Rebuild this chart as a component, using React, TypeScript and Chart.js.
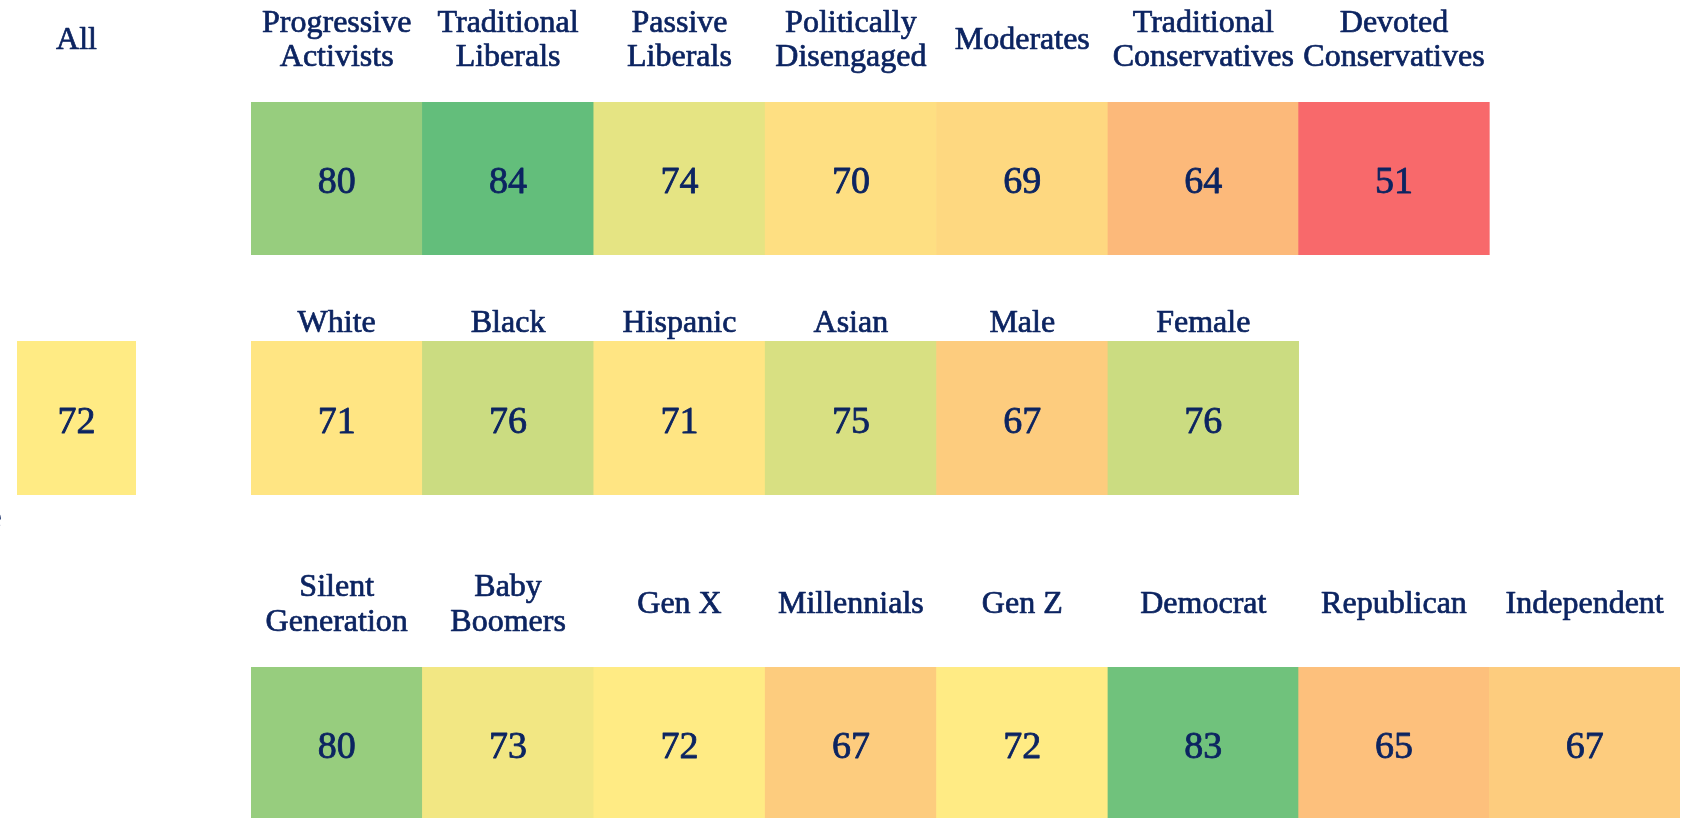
import React, { useEffect, useRef } from "react";
import { Chart, registerables } from "chart.js";

Chart.register(...registerables);

// ---------- data ----------
const ALL_LABEL = ["All"];
const ALL_VALUE = [72];

const ROW1_LABELS = [
  ["Progressive", "Activists"],
  ["Traditional", "Liberals"],
  ["Passive", "Liberals"],
  ["Politically", "Disengaged"],
  ["Moderates"],
  ["Traditional", "Conservatives"],
  ["Devoted", "Conservatives"],
];
const ROW1_VALUES = [80, 84, 74, 70, 69, 64, 51];

const ROW2_LABELS = [["White"], ["Black"], ["Hispanic"], ["Asian"], ["Male"], ["Female"]];
const ROW2_VALUES = [71, 76, 71, 75, 67, 76];

const ROW3_LABELS = [
  ["Silent", "Generation"],
  ["Baby", "Boomers"],
  ["Gen X"],
  ["Millennials"],
  ["Gen Z"],
  ["Democrat"],
  ["Republican"],
  ["Independent"],
];
const ROW3_VALUES = [80, 73, 72, 67, 72, 83, 65, 67];

// ---------- layout / style ----------
const COLUMN_WIDTHS = [1, 1, 1, 1, 1, 1.1125, 1.1125, 1.1125];
const COLUMN_EDGES = COLUMN_WIDTHS.reduce<number[]>((acc, w) => [...acc, acc[acc.length - 1] + w], [0]);
const TOTAL_WIDTH = COLUMN_EDGES[COLUMN_EDGES.length - 1];

const TEXT_COLOR = "#0c2461";
const FONT = "'Liberation Serif', 'Times New Roman', serif";
const LINE_HEIGHT = 34.6;

// Excel-style 3-colour scale (min red, median yellow, max green)
const ALL_VALUES = [...ALL_VALUE, ...ROW1_VALUES, ...ROW2_VALUES, ...ROW3_VALUES];
const sorted = [...ALL_VALUES].sort((a, b) => a - b);
const V_MIN = sorted[0];
const V_MAX = sorted[sorted.length - 1];
const V_MID =
  sorted.length % 2
    ? sorted[(sorted.length - 1) / 2]
    : (sorted[sorted.length / 2 - 1] + sorted[sorted.length / 2]) / 2;
const RED = [248, 105, 107];
const YELLOW = [255, 235, 132];
const GREEN = [99, 190, 123];

function colorFor(v: number): string {
  let a: number[], b: number[], t: number;
  if (v <= V_MID) {
    a = RED; b = YELLOW; t = (v - V_MIN) / (V_MID - V_MIN || 1);
  } else {
    a = YELLOW; b = GREEN; t = (v - V_MID) / (V_MAX - V_MID || 1);
  }
  const c = a.map((x, i) => Math.round(x + (b[i] - x) * t));
  return `rgb(${c[0]},${c[1]},${c[2]})`;
}

function drawText(ctx: CanvasRenderingContext2D, t: string, x: number, y: number) {
  ctx.fillText(t, x, y);
  ctx.strokeText(t, x, y);
}

function makeTextPlugin(labels: string[][], values: number[], centers: number[], headerGap: number, extra?: (ctx: CanvasRenderingContext2D) => void) {
  return {
    id: "cellText",
    afterDatasetsDraw(chart: any) {
      const { ctx, chartArea } = chart;
      const xs = chart.scales.x;
      const meta = chart.getDatasetMeta(0);
      ctx.save();
      ctx.fillStyle = TEXT_COLOR;
      ctx.strokeStyle = TEXT_COLOR;
      ctx.lineWidth = 0.8;
      ctx.lineJoin = "round";
      ctx.textAlign = "center";
      ctx.font = `38px ${FONT}`;
      ctx.textBaseline = "middle";
      meta.data.forEach((bar: any, i: number) => {
        const p = bar.getProps(["x", "y", "base"], true);
        drawText(ctx, String(values[i]), (p.x + p.base) / 2, p.y + 5);
      });
      ctx.font = `32px ${FONT}`;
      ctx.textBaseline = "alphabetic";
      ctx.lineWidth = 0.7;
      const mid = chartArea.top - headerGap;
      labels.forEach((lines, i) => {
        const cx = xs.getPixelForValue(centers[i]);
        lines.forEach((t, k) => {
          drawText(ctx, t, cx, mid + (k - (lines.length - 1) / 2) * LINE_HEIGHT);
        });
      });
      if (extra) extra(ctx);
      ctx.restore();
    },
  };
}

type RowProps = {
  labels: string[][];
  values: number[];
  edges: number[];
  xMax: number;
  left: number;
  top: number;
  width: number;
  height: number;
  padding: { left: number; right: number; top: number; bottom: number };
  headerGap: number;
  extra?: (ctx: CanvasRenderingContext2D) => void;
};

function HeatRow(props: RowProps) {
  const ref = useRef<HTMLCanvasElement | null>(null);
  useEffect(() => {
    if (!ref.current) return;
    const { labels, values, edges, xMax, padding, headerGap, extra } = props;
    const centers = values.map((_, i) => (edges[i] + edges[i + 1]) / 2);
    const chart = new Chart(ref.current, {
      type: "bar",
      data: {
        labels: ["row"],
        datasets: [
          {
            data: values.map((_, i) => ({ x: [edges[i], edges[i + 1]], y: "row" })) as any,
            backgroundColor: values.map(colorFor),
            borderWidth: 0,
            barPercentage: 1,
            categoryPercentage: 1,
          },
        ],
      },
      options: {
        indexAxis: "y",
        animation: false,
        responsive: false,
        maintainAspectRatio: false,
        layout: { padding },
        scales: {
          x: { type: "linear", min: 0, max: xMax, display: false },
          y: { type: "category", display: false },
        },
        plugins: { legend: { display: false }, tooltip: { enabled: false } },
      },
      plugins: [makeTextPlugin(labels, values, centers, headerGap, extra) as any],
    });
    return () => chart.destroy();
  }, []);
  return (
    <canvas
      ref={ref}
      width={props.width}
      height={props.height}
      style={{ position: "absolute", left: props.left, top: props.top, width: props.width, height: props.height }}
    />
  );
}

export default function App() {
  const rowPad = (top: number, bottom = 0) => ({ left: 251, right: 8, top, bottom });
  return (
    <div
      style={{
        position: "fixed",
        left: 0,
        top: 0,
        width: 1688,
        height: 818,
        overflow: "hidden",
        background: "#ffffff",
      }}
    >
      <HeatRow
        labels={ROW1_LABELS}
        values={ROW1_VALUES}
        edges={COLUMN_EDGES}
        xMax={TOTAL_WIDTH}
        left={0}
        top={0}
        width={1688}
        height={255}
        padding={rowPad(102)}
        headerGap={53.1}
      />
      <HeatRow
        labels={ROW2_LABELS}
        values={ROW2_VALUES}
        edges={COLUMN_EDGES}
        xMax={TOTAL_WIDTH}
        left={0}
        top={290}
        width={1688}
        height={205}
        padding={rowPad(51)}
        headerGap={9.3}
      />
      <HeatRow
        labels={ROW3_LABELS}
        values={ROW3_VALUES}
        edges={COLUMN_EDGES}
        xMax={TOTAL_WIDTH}
        left={0}
        top={560}
        width={1688}
        height={260}
        padding={rowPad(107)}
        headerGap={53.7}
      />
      <HeatRow
        labels={[ALL_LABEL]}
        values={ALL_VALUE}
        edges={[0, 1]}
        xMax={1}
        left={0}
        top={0}
        width={200}
        height={818}
        padding={{ left: 17, right: 64, top: 341, bottom: 323 }}
        headerGap={292.1}
        extra={(ctx) => {
          ctx.textAlign = "right";
          ctx.font = `32px ${FONT}`;
          drawText(ctx, "e", 1.5, 527);
        }}
      />
    </div>
  );
}
